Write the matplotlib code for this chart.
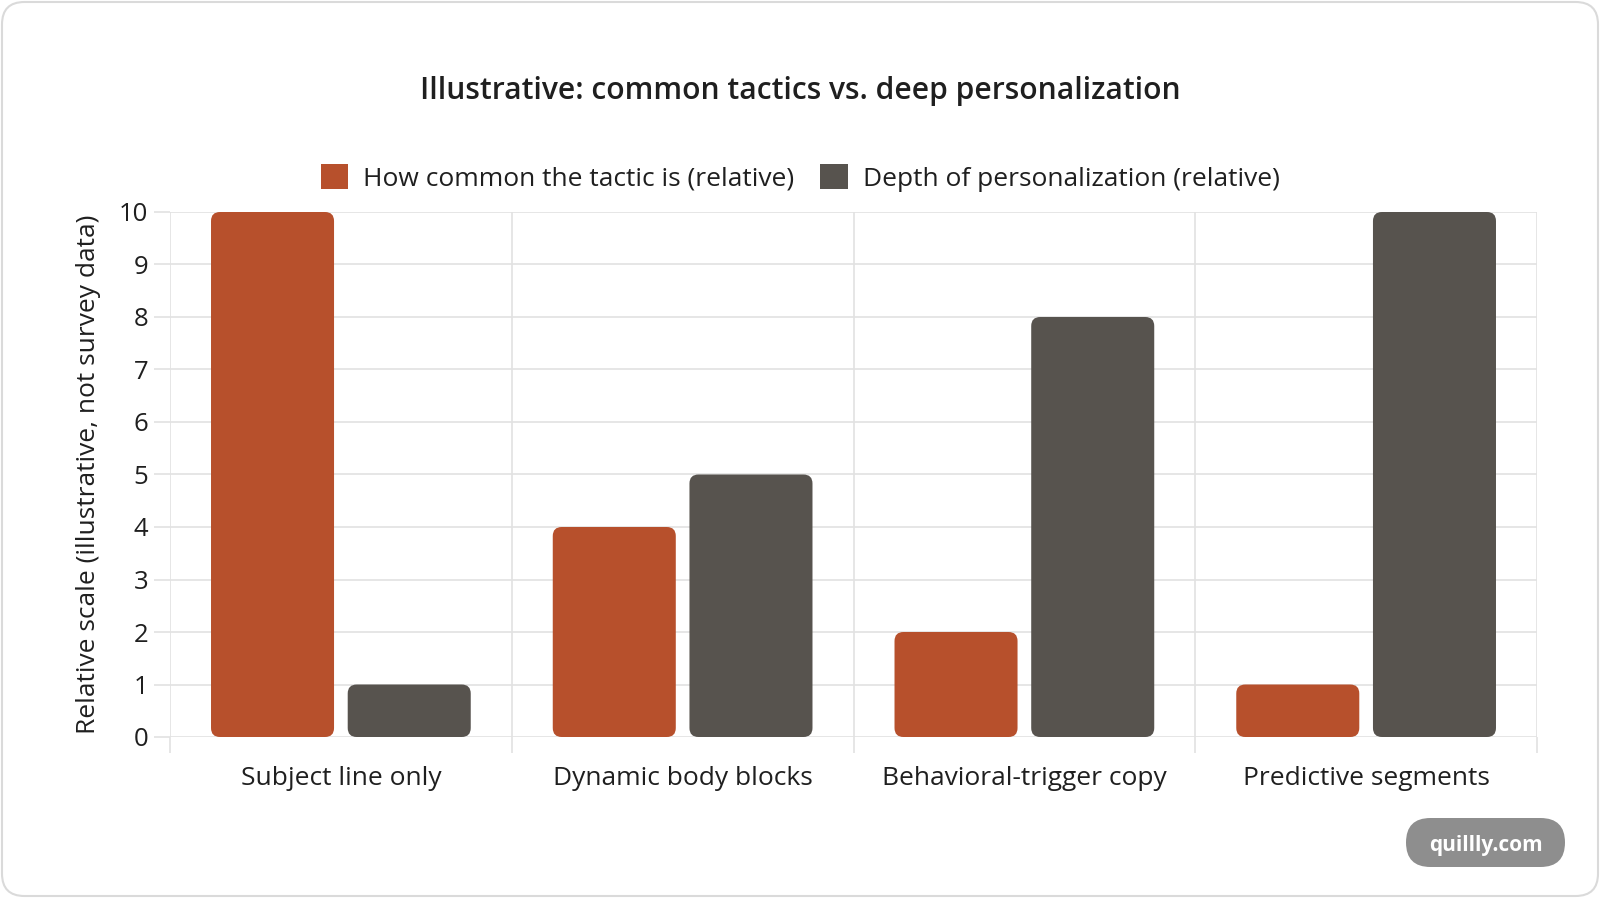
import matplotlib
matplotlib.use("Agg")
import matplotlib.pyplot as plt
from matplotlib.patches import FancyBboxPatch, Patch
import numpy as np

categories = ["Subject line only", "Dynamic body blocks", "Behavioral-trigger copy", "Predictive segments"]
common_vals = [10, 4, 2, 1]
depth_vals = [1, 5, 8, 10]
series_names = ["How common the tactic is (relative)", "Depth of personalization (relative)"]
yticks = list(range(0, 11))
title = "Illustrative: common tactics vs. deep personalization"
ylabel = "Relative scale (illustrative, not survey data)"

C_ORANGE = "#B7502C"
C_GRAY = "#57534E"
C_GRID = "#E2E2E2"
C_TEXT = "#1F1F1F"

plt.rcParams['font.family'] = ['Open Sans', 'DejaVu Sans']

W, H = 1600, 898
fig = plt.figure(figsize=(W / 100, H / 100), dpi=100)
fig.patch.set_facecolor("white")

# card border
card = FancyBboxPatch((2 / W, 2 / H), (W - 4) / W, (H - 4) / H,
                      boxstyle="round,pad=0,rounding_size=0.014",
                      mutation_aspect=W / H,
                      transform=fig.transFigure, facecolor="white",
                      edgecolor="#DADADA", linewidth=1.5, zorder=-10)
fig.patches.append(card)

L, R, T, B = 170, 1537, 212, 737
ax = fig.add_axes([L / W, (H - B) / H, (R - L) / W, (B - T) / H])
ax.set_zorder(1)
ax.set_facecolor("none")
ax.set_xlim(-0.5, len(categories) - 0.5)
ax.set_ylim(0, 10)

for s in ax.spines.values():
    s.set_visible(False)

ax.set_yticks(yticks)
ax.set_yticklabels([str(v) for v in yticks])
ax.tick_params(axis='y', length=11.5, width=1.2, color=C_GRID, pad=4,
               labelsize=18.5, labelcolor=C_TEXT)
ax.yaxis.grid(True, color=C_GRID, linewidth=1.2)

xs = np.arange(len(categories))
ax.set_xticks(xs)
ax.set_xticklabels(categories)
ax.tick_params(axis='x', which='major', length=0, pad=21, labelsize=19, labelcolor=C_TEXT)
ax.set_xticks(np.arange(len(categories) + 1) - 0.5, minor=True)
ax.tick_params(axis='x', which='minor', length=11.5, width=1.2, color=C_GRID)
ax.xaxis.grid(True, which='minor', color=C_GRID, linewidth=1.2)
ax.set_axisbelow(True)

# rounded bars
px_per_x = (R - L) / len(categories)
px_per_y = (B - T) / 10.0
rad_px = 9
rx = rad_px / px_per_x
aspect = px_per_x / px_per_y
bw = 0.36
for vals, off, col in [(common_vals, -0.2, C_ORANGE), (depth_vals, 0.2, C_GRAY)]:
    for i, v in enumerate(vals):
        p = FancyBboxPatch((i + off - bw / 2, 0), bw, v,
                           boxstyle=f"round,pad=0,rounding_size={rx}",
                           mutation_aspect=aspect,
                           facecolor=col, edgecolor="none", zorder=3)
        ax.add_patch(p)

# title
fig.text(800 / W, 1 - 91 / H, title, ha='center', va='center',
         fontsize=21.6, fontweight='semibold', color=C_TEXT)

# y label
fig.text(89 / W, 1 - 474 / H, ylabel, rotation=90, ha='center', va='center',
         fontsize=19, color=C_TEXT)

# legend
handles = [Patch(facecolor=C_ORANGE, edgecolor='none'), Patch(facecolor=C_GRAY, edgecolor='none')]
fig.legend(handles, series_names, loc='center', bbox_to_anchor=(800 / W, 1 - 178 / H),
           ncol=2, frameon=False, fontsize=19, handlelength=1.05, handleheight=1.05,
           handletextpad=0.55, columnspacing=1.0, labelcolor=C_TEXT)

# watermark
wm = FancyBboxPatch((1406 / W, 1 - 867 / H), 159 / W, 49 / H,
                    boxstyle="round,pad=0,rounding_size=0.0153",
                    mutation_aspect=W / H,
                    transform=fig.transFigure, facecolor="#8E8E8E",
                    edgecolor="none", zorder=5)
fig.patches.append(wm)
fig.text(1485.5 / W, 1 - 845 / H, "quillly.com", ha='center', va='center',
         fontsize=15, fontweight='bold', color="white", zorder=6)

fig.savefig("out.png", dpi=100, facecolor="white")
